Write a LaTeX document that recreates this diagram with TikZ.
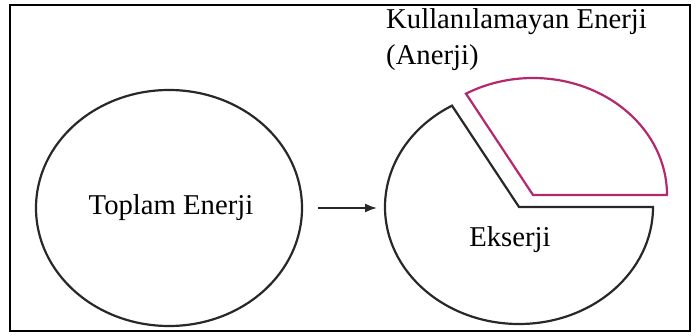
\documentclass[tikz,border=0pt]{standalone}
\usepackage{fontspec}
\setmainfont{Liberation Serif}
\usetikzlibrary{shapes.geometric,arrows.meta}
\definecolor{ink}{RGB}{40,40,40}
\definecolor{mag}{RGB}{180,40,110}
\begin{document}
\begin{tikzpicture}[x=1pt,y=1pt,
  lbl/.style={inner sep=0pt,font=\fontsize{28.7pt}{36pt}\selectfont,text=black},
  shapeline/.style={draw=ink,line width=2.2pt},
  conn/.style={draw=ink,line width=1.8pt,-{Latex[length=12pt,width=9pt]}}]
\useasboundingbox (0,0) rectangle (698,335);
\draw[line width=2.8pt,black] (10,4) rectangle (690,330);
% left ellipse
\node[ellipse,shapeline,minimum width=266pt,minimum height=236pt,inner sep=0pt] (tot) at (169,127) {};
\node[lbl,anchor=base] (totl) at (171,121) {Toplam Enerji};
% right pie (exergy)
\coordinate (pv) at (519,128);
\coordinate (pw) at (386,127);
\draw[shapeline,line join=miter] (pv) -- (653,128) arc[start angle=0,end angle=-240,x radius=134,y radius=117] -- cycle;
% anergy slice
\draw[draw=mag,line width=2.2pt,line join=miter] (533,140) -- (667,140) arc[start angle=0,end angle=120,x radius=134,y radius=117] -- cycle;
\node[lbl,anchor=base] (eks) at (510,89) {Ekserji};
\node[lbl,anchor=base west] (an1) at (386,306) {Kullanılamayan Enerji};
\node[lbl,anchor=base west] (an2) at (386,270) {(Anerji)};
% arrow
\draw[conn,shorten <=15pt,shorten >=9pt] (tot.east) -- (pw);
\end{tikzpicture}
\end{document}
